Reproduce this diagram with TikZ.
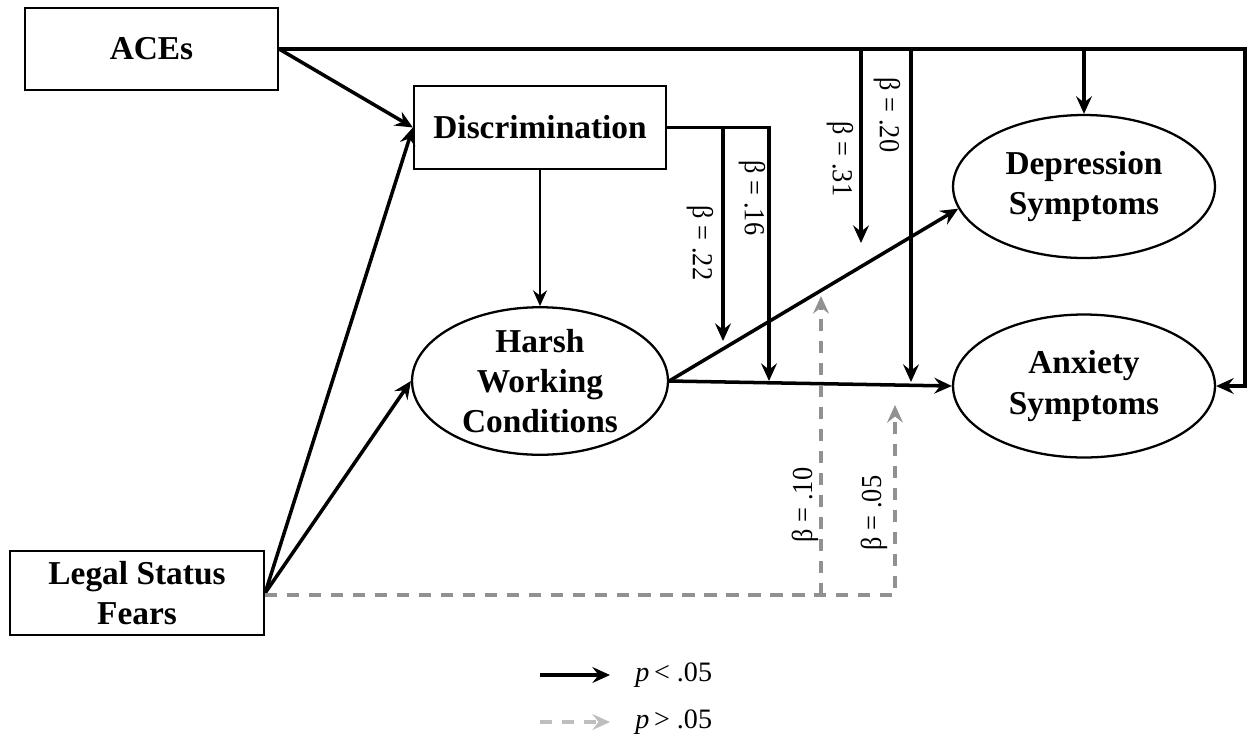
\documentclass[tikz,border=0pt]{standalone}
\usepackage{fontspec}
\setmainfont{Liberation Serif}
\usepackage{xcolor}
\usetikzlibrary{shapes.geometric,arrows.meta,positioning}
\definecolor{nsgray}{RGB}{145,145,145}
\definecolor{keygray}{RGB}{190,190,190}

\begin{document}
\begin{tikzpicture}[
    x=0.02cm, y=-0.02cm,
    varbox/.style={rectangle, draw=black, line width=1.3pt, inner sep=0pt, align=center, font=\fontsize{19}{23}\selectfont\bfseries},
    latent/.style={ellipse, draw=black, line width=1.3pt, inner sep=0pt, align=center, minimum width=5.24cm, minimum height=2.86cm, font=\fontsize{19}{23}\selectfont\bfseries},
    sig/.style={line width=2pt, -{Stealth[length=10pt, width=9pt, inset=3.5pt]}},
    nonsig/.style={line width=2pt, nsgray, dash pattern=on 7pt off 5.5pt, -{Stealth[length=10pt, width=9pt, inset=3.5pt]}},
    beta/.style={inner sep=0pt, xscale=1.1, font=\fontsize{15}{17}\selectfont},
    keytext/.style={anchor=west, inner sep=0pt, font=\fontsize{16}{18}\selectfont}
]
\useasboundingbox (0,0) rectangle (1250,741);

% Predictors
\node[varbox, minimum width=5.06cm, minimum height=1.64cm] (aces) at (151.5,49) {ACEs};
\node[varbox, minimum width=5.04cm, minimum height=1.66cm] (disc) at (540,127.5) {Discrimination};
\node[varbox, minimum width=5.08cm, minimum height=1.68cm] (legal) at (137,593) {Legal Status\\Fears};

% Mediator and outcomes
\node[latent, minimum width=5.12cm, minimum height=2.88cm] (harsh) at (540,381) {Harsh\\Working\\Conditions};
\node[latent] (dep) at (1084,186.5) {Depression\\Symptoms};
\node[latent] (anx) at (1084,386) {Anxiety\\Symptoms};

% Corners and moderator arrow ends
\coordinate (topR) at (1245,49);
\coordinate (j31) at (861,49);   \coordinate (t31) at (861,243);
\coordinate (j20) at (911,49);   \coordinate (t20) at (911,382);
\coordinate (jdisc) at (769,127.5); \coordinate (t16) at (769,381);
\coordinate (j22) at (723,127.5); \coordinate (t22) at (723,341);
\coordinate (g10) at (821,595);  \coordinate (t10) at (821,296);
\coordinate (g05) at (895,595);  \coordinate (t05) at (895,405);

% ACEs paths
\draw[sig] (aces.east) -- (disc.west);
\draw[sig] (aces.east) -- (topR) |- (anx.east);
\draw[sig] (aces.east -| dep.north) -- (dep.north);
\draw[sig] (j31) -- (t31);
\draw[sig] (j20) -- (t20);

% Legal status paths
\draw[sig] (legal.east) -- (disc.west);
\draw[sig] (legal.east) -- (harsh.west);

% Discrimination paths
\draw[line width=1.1pt, -{Stealth[length=9pt, width=8pt, inset=3pt]}] (disc.south) -- (harsh.north);
\draw[sig] (disc.east) -- (jdisc) -- (t16);
\draw[sig] (j22) -- (t22);

% Harsh working conditions to outcomes
\draw[sig] (harsh.east) -- (dep.190);
\draw[sig] (harsh.east) -- (anx.west);

% Non-significant moderation
\draw[nonsig] (legal.east |- g05) -- (g05) -- (t05);
\draw[nonsig] (g10) -- (t10);

% Coefficients
\node[beta, rotate=-90] (b22) at (700,243) {β = .22};
\node[beta, rotate=-90] (b16) at (752,198) {β = .16};
\node[beta, rotate=-90] (b31) at (840,159) {β = .31};
\node[beta, rotate=-90] (b20) at (887,115) {β = .20};
\node[beta, rotate=90] (b10) at (805,505) {β = .10};
\node[beta, rotate=90] (b05) at (874,513) {β = .05};

% Legend
\coordinate (keyA) at (540,675); \coordinate (keyB) at (610,675);
\coordinate (keyC) at (540,722); \coordinate (keyD) at (610,722);
\draw[sig] (keyA) -- (keyB);
\draw[nonsig, keygray] (keyC) -- (keyD);
\node[keytext] (keysig) at (635,675) {\textit{p}\,< .05};
\node[keytext] (keyns) at (635,722) {\textit{p}\,> .05};

\end{tikzpicture}
\end{document}
